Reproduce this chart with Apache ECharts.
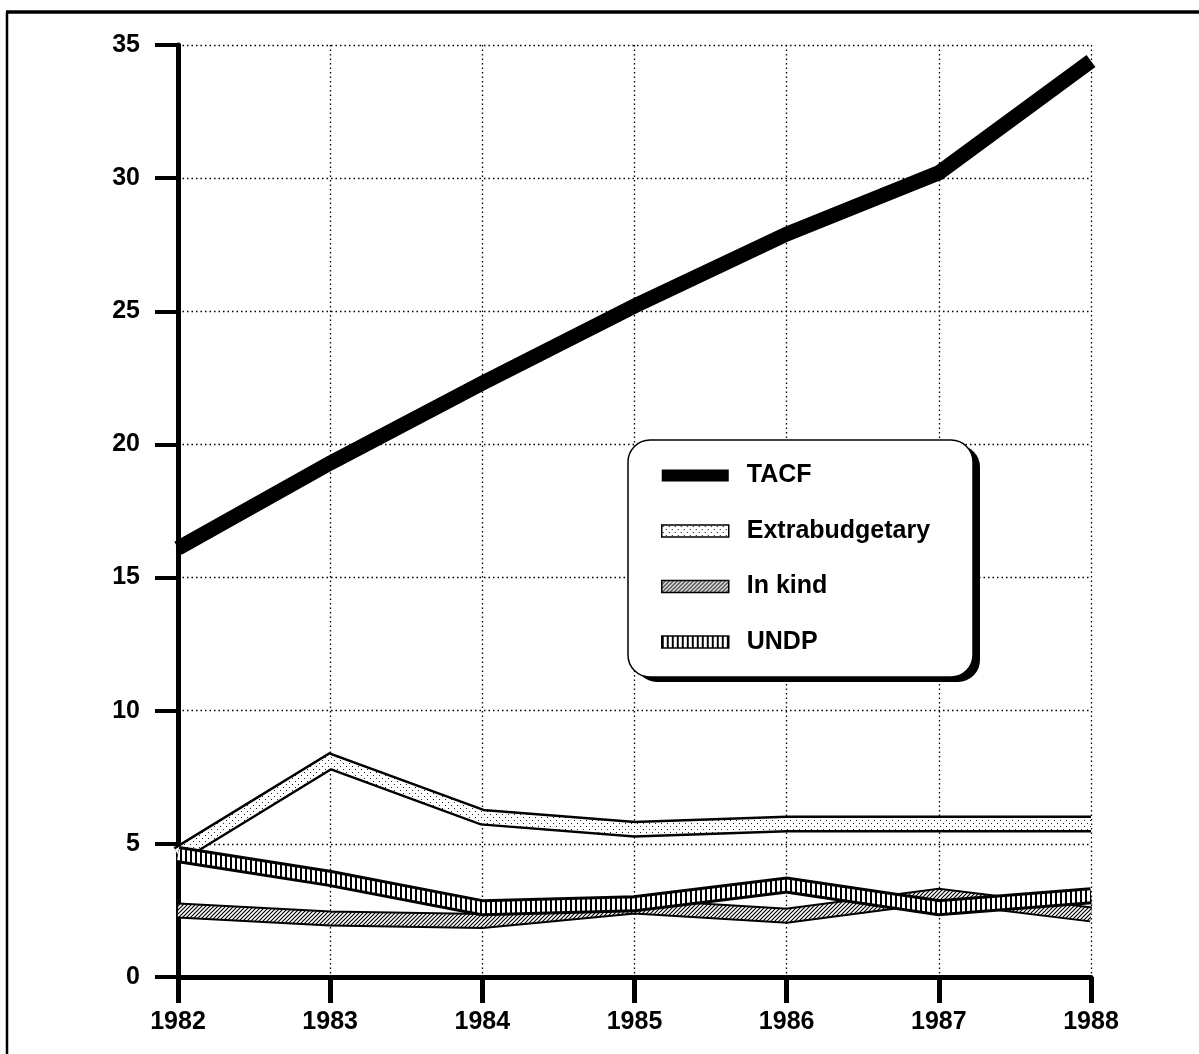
<!DOCTYPE html>
<html>
<head>
<meta charset="utf-8">
<script src="https://cdn.jsdelivr.net/npm/echarts@6/dist/echarts.min.js"></script>
<style>
  html, body { margin: 0; padding: 0; background: #fff; }
  #chart { width: 1199px; height: 1054px; }
</style>
</head>
<body>
<div id="chart"></div>
<script>
// Funding sources, 1982-1988
const years = ['1982', '1983', '1984', '1985', '1986', '1987', '1988'];
const tacf = [16.1, 19.3, 22.3, 25.2, 27.9, 30.2, 34.4];
const extrabudgetary = [4.6, 8.1, 6.0, 5.55, 5.75, 5.75, 5.75];
const inKind = [2.5, 2.2, 2.1, 2.65, 2.3, 3.05, 2.35];
const undp = [4.6, 3.7, 2.6, 2.75, 3.45, 2.6, 3.05];
const yTicks = { min: 0, max: 35, step: 5 };

const FONT = '"Liberation Sans", Arial, Helvetica, sans-serif';

// Small tiled canvases used as fill patterns for the banded lines
function tile(w, h, draw) {
  const c = document.createElement('canvas');
  c.width = w; c.height = h;
  const ctx = c.getContext('2d');
  ctx.fillStyle = '#fff';
  ctx.fillRect(0, 0, w, h);
  draw(ctx);
  return { image: c, repeat: 'repeat' };
}
const dotFill = tile(6, 6, ctx => {
  ctx.fillStyle = '#222';
  ctx.fillRect(1, 1, 1, 1);
  ctx.fillRect(4, 4, 1, 1);
});
const hatchFill = tile(4, 4, ctx => {
  ctx.strokeStyle = '#000';
  ctx.lineWidth = 1.2;
  ctx.beginPath();
  ctx.moveTo(0, 4); ctx.lineTo(4, 0);
  ctx.moveTo(-1, 1); ctx.lineTo(1, -1);
  ctx.moveTo(3, 5); ctx.lineTo(5, 3);
  ctx.stroke();
});
const stripeFill = tile(5, 2, ctx => {
  ctx.fillStyle = '#000';
  ctx.fillRect(0, 0, 2, 2);
});

// A banded line: a wide black stroke with a narrower patterned stroke on top
function band(name, data, fill, outerW, innerW) {
  return [
    {
      name: name + ' edge', type: 'line', data: data,
      symbol: 'none', silent: true,
      lineStyle: { color: '#000', width: outerW, join: 'miter', cap: 'butt' }
    },
    {
      name: name, type: 'line', data: data,
      symbol: 'none', silent: true,
      itemStyle: { color: fill },
      lineStyle: { color: fill, width: innerW, join: 'miter', cap: 'butt' }
    }
  ];
}

// Legend panel geometry
const box = { x: 628, y: 440, w: 345, h: 237, r: 22, sx: 7, sy: 5 };

const chart = echarts.init(document.getElementById('chart'), null, { renderer: 'canvas' });

chart.setOption({
  animation: false,
  backgroundColor: '#fff',
  grid: { left: 178, right: 108, top: 45, bottom: 77, containLabel: false },
  xAxis: {
    type: 'category',
    data: years,
    boundaryGap: false,
    axisLine: { lineStyle: { color: '#000', width: 5 } },
    axisTick: { show: true, length: 26, alignWithLabel: true, lineStyle: { color: '#000', width: 5 } },
    axisLabel: { color: '#000', fontFamily: FONT, fontWeight: 'bold', fontSize: 25, margin: 33 },
    splitLine: { show: true, lineStyle: { color: '#000', width: 1.3, type: [1.5, 3] } }
  },
  yAxis: {
    type: 'value',
    min: yTicks.min, max: yTicks.max, interval: yTicks.step,
    axisLine: { show: true, lineStyle: { color: '#000', width: 5 } },
    axisTick: { show: true, length: 23, lineStyle: { color: '#000', width: 4 } },
    axisLabel: { color: '#000', fontFamily: FONT, fontWeight: 'bold', fontSize: 25, margin: 38 },
    splitLine: { show: true, lineStyle: { color: '#000', width: 1.3, type: [1.5, 3] } }
  },
  legend: {
    orient: 'vertical',
    left: box.x, top: box.y,
    padding: [23, 41, 21, 33],
    itemWidth: 67, itemHeight: 12,
    itemGap: 30.5,
    backgroundColor: 'transparent',
    borderWidth: 0,
    selectedMode: false,
    z: 6,
    textStyle: { color: '#000', fontFamily: FONT, fontWeight: 'bold', fontSize: 25, lineHeight: 25, padding: [0, 0, 0, 13] },
    data: [
      { name: 'TACF', icon: 'rect', itemStyle: { color: '#000', borderWidth: 0 } },
      { name: 'Extrabudgetary', icon: 'rect', itemStyle: { color: dotFill, borderColor: '#000', borderWidth: 1.5 } },
      { name: 'In kind', icon: 'rect', itemStyle: { color: hatchFill, borderColor: '#000', borderWidth: 1.5 } },
      { name: 'UNDP', icon: 'rect', itemStyle: { color: stripeFill, borderColor: '#000', borderWidth: 1.5 } }
    ]
  },
  graphic: [
    // outer frame (left and top edges)
    { type: 'line', silent: true, z: 10, shape: { x1: 7, y1: 1054, x2: 7, y2: 12 }, style: { stroke: '#000', lineWidth: 2.5 } },
    { type: 'line', silent: true, z: 10, shape: { x1: 6, y1: 12, x2: 1199, y2: 12 }, style: { stroke: '#000', lineWidth: 3.5 } },
    // legend panel: solid drop shadow and rounded white card
    { type: 'rect', silent: true, z: 4,
      shape: { x: box.x + box.sx, y: box.y + box.sy, width: box.w, height: box.h, r: box.r },
      style: { fill: '#000' } },
    { type: 'rect', silent: true, z: 5,
      shape: { x: box.x, y: box.y, width: box.w, height: box.h, r: box.r },
      style: { fill: '#fff', stroke: '#000', lineWidth: 1.5 } }
  ],
  series: [
    ...band('Extrabudgetary', extrabudgetary, dotFill, 17, 12),
    ...band('In kind', inKind, hatchFill, 16, 12),
    ...band('UNDP', undp, stripeFill, 17, 11),
    {
      name: 'TACF', type: 'line', data: tacf,
      symbol: 'none', silent: true,
      itemStyle: { color: '#000' },
      lineStyle: { color: '#000', width: 15, join: 'miter', cap: 'butt' }
    }
  ]
});
</script>
</body>
</html>
